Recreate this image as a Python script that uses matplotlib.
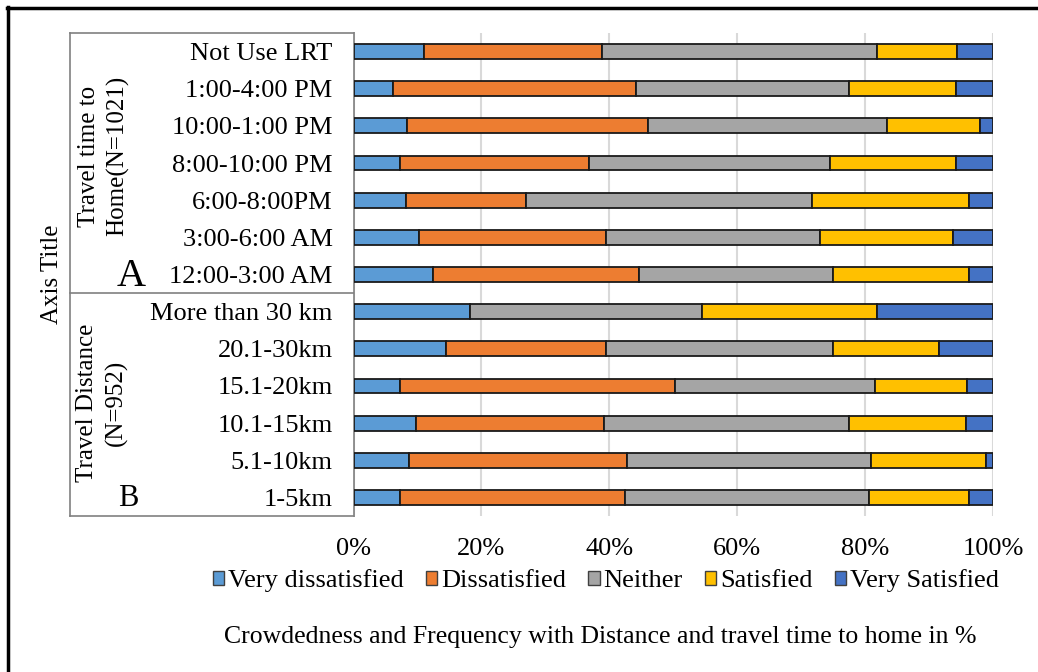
import matplotlib.pyplot as plt
from matplotlib.lines import Line2D
from matplotlib.patches import Patch
from matplotlib.ticker import PercentFormatter
import numpy as np

plt.rcParams['font.family'] = ['Liberation Serif', 'DejaVu Serif']

# rows from top to bottom
categories = ["Not Use LRT", "1:00-4:00 PM", "10:00-1:00 PM", "8:00-10:00 PM",
              "6:00-8:00PM", "3:00-6:00 AM", "12:00-3:00 AM",
              "More than 30 km", "20.1-30km", "15.1-20km", "10.1-15km",
              "5.1-10km", "1-5km"]

levels = ["Very dissatisfied", "Dissatisfied", "Neither", "Satisfied", "Very Satisfied"]
colors = ["#5B9BD5", "#ED7D31", "#A5A5A5", "#FFC000", "#4472C4"]

very_dissatisfied = [11.0, 6.2, 8.4, 7.3, 8.2, 10.2, 12.4, 18.2, 14.5, 7.2, 9.8, 8.7, 7.2]
dissatisfied = [27.8, 38.0, 37.7, 29.5, 18.7, 29.3, 32.2, 0.0, 25.0, 43.1, 29.3, 34.1, 35.2]
neither = [43.0, 33.3, 37.3, 37.7, 44.8, 33.4, 30.4, 36.3, 35.5, 31.2, 38.4, 38.1, 38.2]
satisfied = [12.6, 16.7, 14.5, 19.7, 24.6, 20.8, 21.3, 27.3, 16.5, 14.4, 18.3, 18.0, 15.7]
very_satisfied = [5.6, 5.8, 2.1, 5.8, 3.7, 6.3, 3.7, 18.2, 8.5, 4.1, 4.2, 1.1, 3.7]

series = [very_dissatisfied, dissatisfied, neither, satisfied, very_satisfied]

W, H = 1038, 672
fig = plt.figure(figsize=(W / 100, H / 100), dpi=100)
ax = fig.add_axes([353.5 / W, 1 - 516 / H, 639.5 / W, 483 / H])

# normalise each row to 100%
vals = np.array(series, dtype=float)
vals = vals / vals.sum(axis=0)

y = np.arange(len(categories))
left = np.zeros(len(categories))
for name, v, c in zip(levels, vals, colors):
    ax.barh(y, v, left=left, height=0.40, color=c, edgecolor="#1a1a1a",
            linewidth=1.3, label=name, zorder=3)
    left += v

ax.set_ylim(len(categories) - 0.5, -0.5)
ax.set_xlim(0, 1)
ax.set_xticks(np.linspace(0, 1, 6))
ax.xaxis.set_major_formatter(PercentFormatter(1.0, decimals=0))
ax.set_yticks(y)
ax.set_yticklabels(categories)
ax.tick_params(axis="both", length=0, labelsize=19)
ax.tick_params(axis="x", pad=16)
ax.tick_params(axis="y", pad=15)
ax.grid(axis="x", color="#D9D9D9", linewidth=1.5, zorder=0)
for s in ["top", "right", "bottom"]:
    ax.spines[s].set_visible(False)
ax.spines["left"].set_color("#808080")
ax.spines["left"].set_linewidth(1.2)

# overlay in pixel units for the grouping box, labels and frame
ov = fig.add_axes([0, 0, 1, 1], zorder=-1)
ov.set_xlim(0, W)
ov.set_ylim(H, 0)
ov.axis("off")
ov.patch.set_alpha(0)

box = dict(color="#808080", linewidth=1.2)
for yy in (33, 293, 516):
    ov.add_line(Line2D([70, 353.5], [yy, yy], **box))
ov.add_line(Line2D([70, 70], [33, 516], **box))

# outer frame (top and left edges)
ov.add_line(Line2D([7, W], [7.5, 7.5], color="black", linewidth=2.5))
ov.add_line(Line2D([7.5, 7.5], [7, H], color="black", linewidth=2.5))

ov.text(52, 274, "Axis Title", rotation=90, ha="center", va="center", fontsize=18)
ov.text(104, 156, "Travel time to\nHome(N=1021)", rotation=90, ha="center",
        va="center", fontsize=18, linespacing=1.35)
ov.text(102, 403, "Travel Distance\n(N=952)", rotation=90, ha="center",
        va="center", fontsize=18, linespacing=1.35)
ov.text(131, 276, "A", ha="center", va="center", fontsize=29)
ov.text(128, 498, "B", ha="center", va="center", fontsize=22)

handles = [Patch(facecolor=c, edgecolor="#404040", linewidth=1.0) for c in colors]
fig.legend(handles, levels, loc="center", bbox_to_anchor=(606 / W, 1 - 581 / H),
           ncol=5, frameon=False, fontsize=19, handlelength=0.42, handleheight=0.42,
           handletextpad=0.15, columnspacing=0.85, borderaxespad=0)

fig.text(600 / W, 1 - 637 / H,
         "Crowdedness and Frequency with Distance and travel time to home in %",
         ha="center", va="center", fontsize=18.5)

fig.savefig("out.png", dpi=100)
